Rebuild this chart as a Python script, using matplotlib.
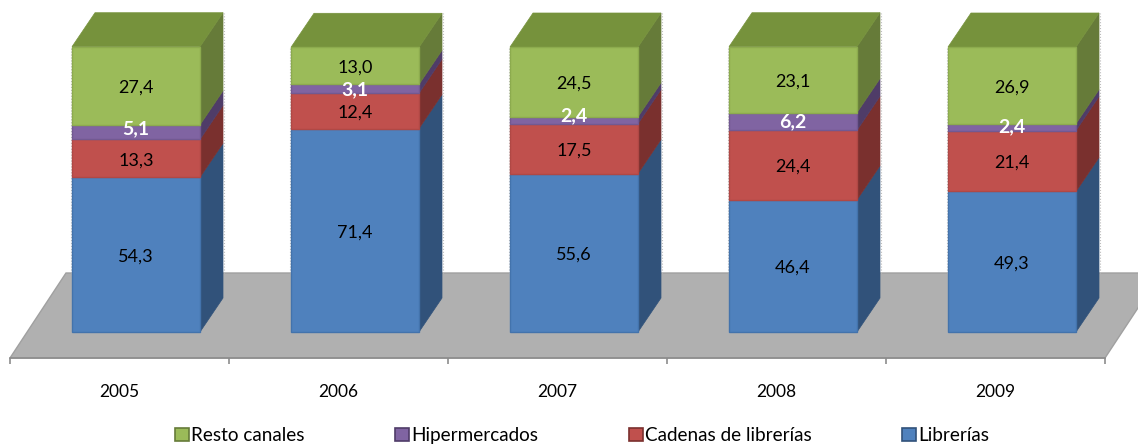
import numpy as np
import matplotlib
matplotlib.use("Agg")
import matplotlib.pyplot as plt
from matplotlib.patches import Polygon, Patch

anios = ["2005", "2006", "2007", "2008", "2009"]
librerias = [54.3, 71.4, 55.6, 46.4, 49.3]
cadenas = [13.3, 12.4, 17.5, 24.4, 21.4]
hiper = [5.1, 3.1, 2.4, 6.2, 2.4]
resto = [27.4, 13.0, 24.5, 23.1, 26.9]

nombres = ["Librerías", "Cadenas de librerías", "Hipermercados", "Resto canales"]
series = [librerias, cadenas, hiper, resto]
frente = ["#4F81BD", "#C0504D", "#8064A2", "#9BBB59"]
lado = ["#31527A", "#7A302E", "#4F3C68", "#667B39"]
borde = ["#4373AC", "#B04845", "#725992", "#8CAB4E"]
techo = "#76923C"

PX_X = 219.0
PX_Y = 2.85
ancho = 128 / PX_X
prof_x = 23 / PX_X
prof_y = 34 / PX_Y

# las etiquetas blancas no van centradas en el original (en px, hacia arriba)
ajuste_hiper = [3, -1, 4, 0, 0]

plt.rcParams["font.family"] = ["Lato", "DejaVu Sans"]

fig = plt.figure(figsize=(11.38, 4.46), dpi=100)
ax = fig.add_axes([0, 0, 1, 1])
ax.set_xlim(-136 / PX_X, (1138 - 136) / PX_X)
ax.set_ylim(-(446 - 332) / PX_Y, 332 / PX_Y)
ax.patch.set_visible(False)

# suelo
izq = -126 / PX_X
der = izq + 5
y_frente = -26 / PX_Y
y_fondo = 59 / PX_Y
fx = 56 / PX_X
ax.add_patch(Polygon([(izq, y_frente), (der, y_frente), (der + fx, y_fondo), (izq + fx, y_fondo)],
                     facecolor="#B0B0B0", edgecolor="#A0A0A0", lw=1, zorder=1))

# barras
x = np.arange(len(anios))
abajo = np.zeros(len(anios))
for s in range(len(series)):
    vals = np.array(series[s])
    ax.bar(x, vals, width=ancho, bottom=abajo, color=frente[s], edgecolor=borde[s], lw=1, zorder=3)
    for i in x:
        xd = i + ancho / 2
        ax.add_patch(Polygon([(xd, abajo[i]), (xd + prof_x, abajo[i] + prof_y),
                              (xd + prof_x, abajo[i] + vals[i] + prof_y), (xd, abajo[i] + vals[i])],
                             facecolor=lado[s], edgecolor=lado[s], lw=0.5, zorder=2))
        texto = str(vals[i]).replace(".", ",")
        if s == 2:
            ax.text(i, abajo[i] + vals[i] / 2 + ajuste_hiper[i] / PX_Y, texto, ha="center", va="center",
                    color="white", fontsize=14, fontweight="bold", zorder=5)
        else:
            ax.text(i, abajo[i] + vals[i] / 2 - 2 / PX_Y, texto, ha="center", va="center",
                    color="black", fontsize=13, zorder=5)
    abajo = abajo + vals

for i in x:
    xi = i - ancho / 2
    xd = i + ancho / 2
    ax.add_patch(Polygon([(xi, abajo[i]), (xd, abajo[i]), (xd + prof_x, abajo[i] + prof_y), (xi + prof_x, abajo[i] + prof_y)],
                         facecolor=techo, edgecolor=techo, lw=0.5, zorder=2))

# bordes punteados claros de las barras
ax.vlines(x - ancho / 2 - 1 / PX_X, y_fondo, abajo, color="#BDBDBD", lw=0.8, ls=":", zorder=1)
ax.vlines(x + ancho / 2 + prof_x + 1 / PX_X, y_fondo, abajo + prof_y, color="#BDBDBD", lw=0.8, ls=":", zorder=1)

# eje
for sp in ["top", "left", "right"]:
    ax.spines[sp].set_visible(False)
ax.spines["bottom"].set_position(("data", y_frente))
ax.spines["bottom"].set_bounds(izq, der)
ax.spines["bottom"].set_color("#8C8C8C")
ax.spines["bottom"].set_linewidth(1.2)
ax.set_yticks([])
ax.set_xticks(np.arange(5) + izq + 0.5)
ax.set_xticklabels(anios, fontsize=12.5)
ax.tick_params(axis="x", which="major", length=0, pad=18.5)
ax.set_xticks(np.arange(6) + izq, minor=True)
ax.tick_params(axis="x", which="minor", length=4, width=1.2, color="#8C8C8C")

# leyenda
handles = [Patch(facecolor=frente[s], edgecolor=lado[s], lw=1.2) for s in [3, 2, 1, 0]]
etiquetas = [nombres[s] for s in [3, 2, 1, 0]]
fig.legend(handles, etiquetas, loc="lower left", bbox_to_anchor=(173 / 1138, 0.0), ncol=4, frameon=False,
           fontsize=13.6, handlelength=0.75, handleheight=0.75, handletextpad=0.1, columnspacing=4.8,
           borderpad=0.1, borderaxespad=0)

fig.savefig("out.png", dpi=100)
